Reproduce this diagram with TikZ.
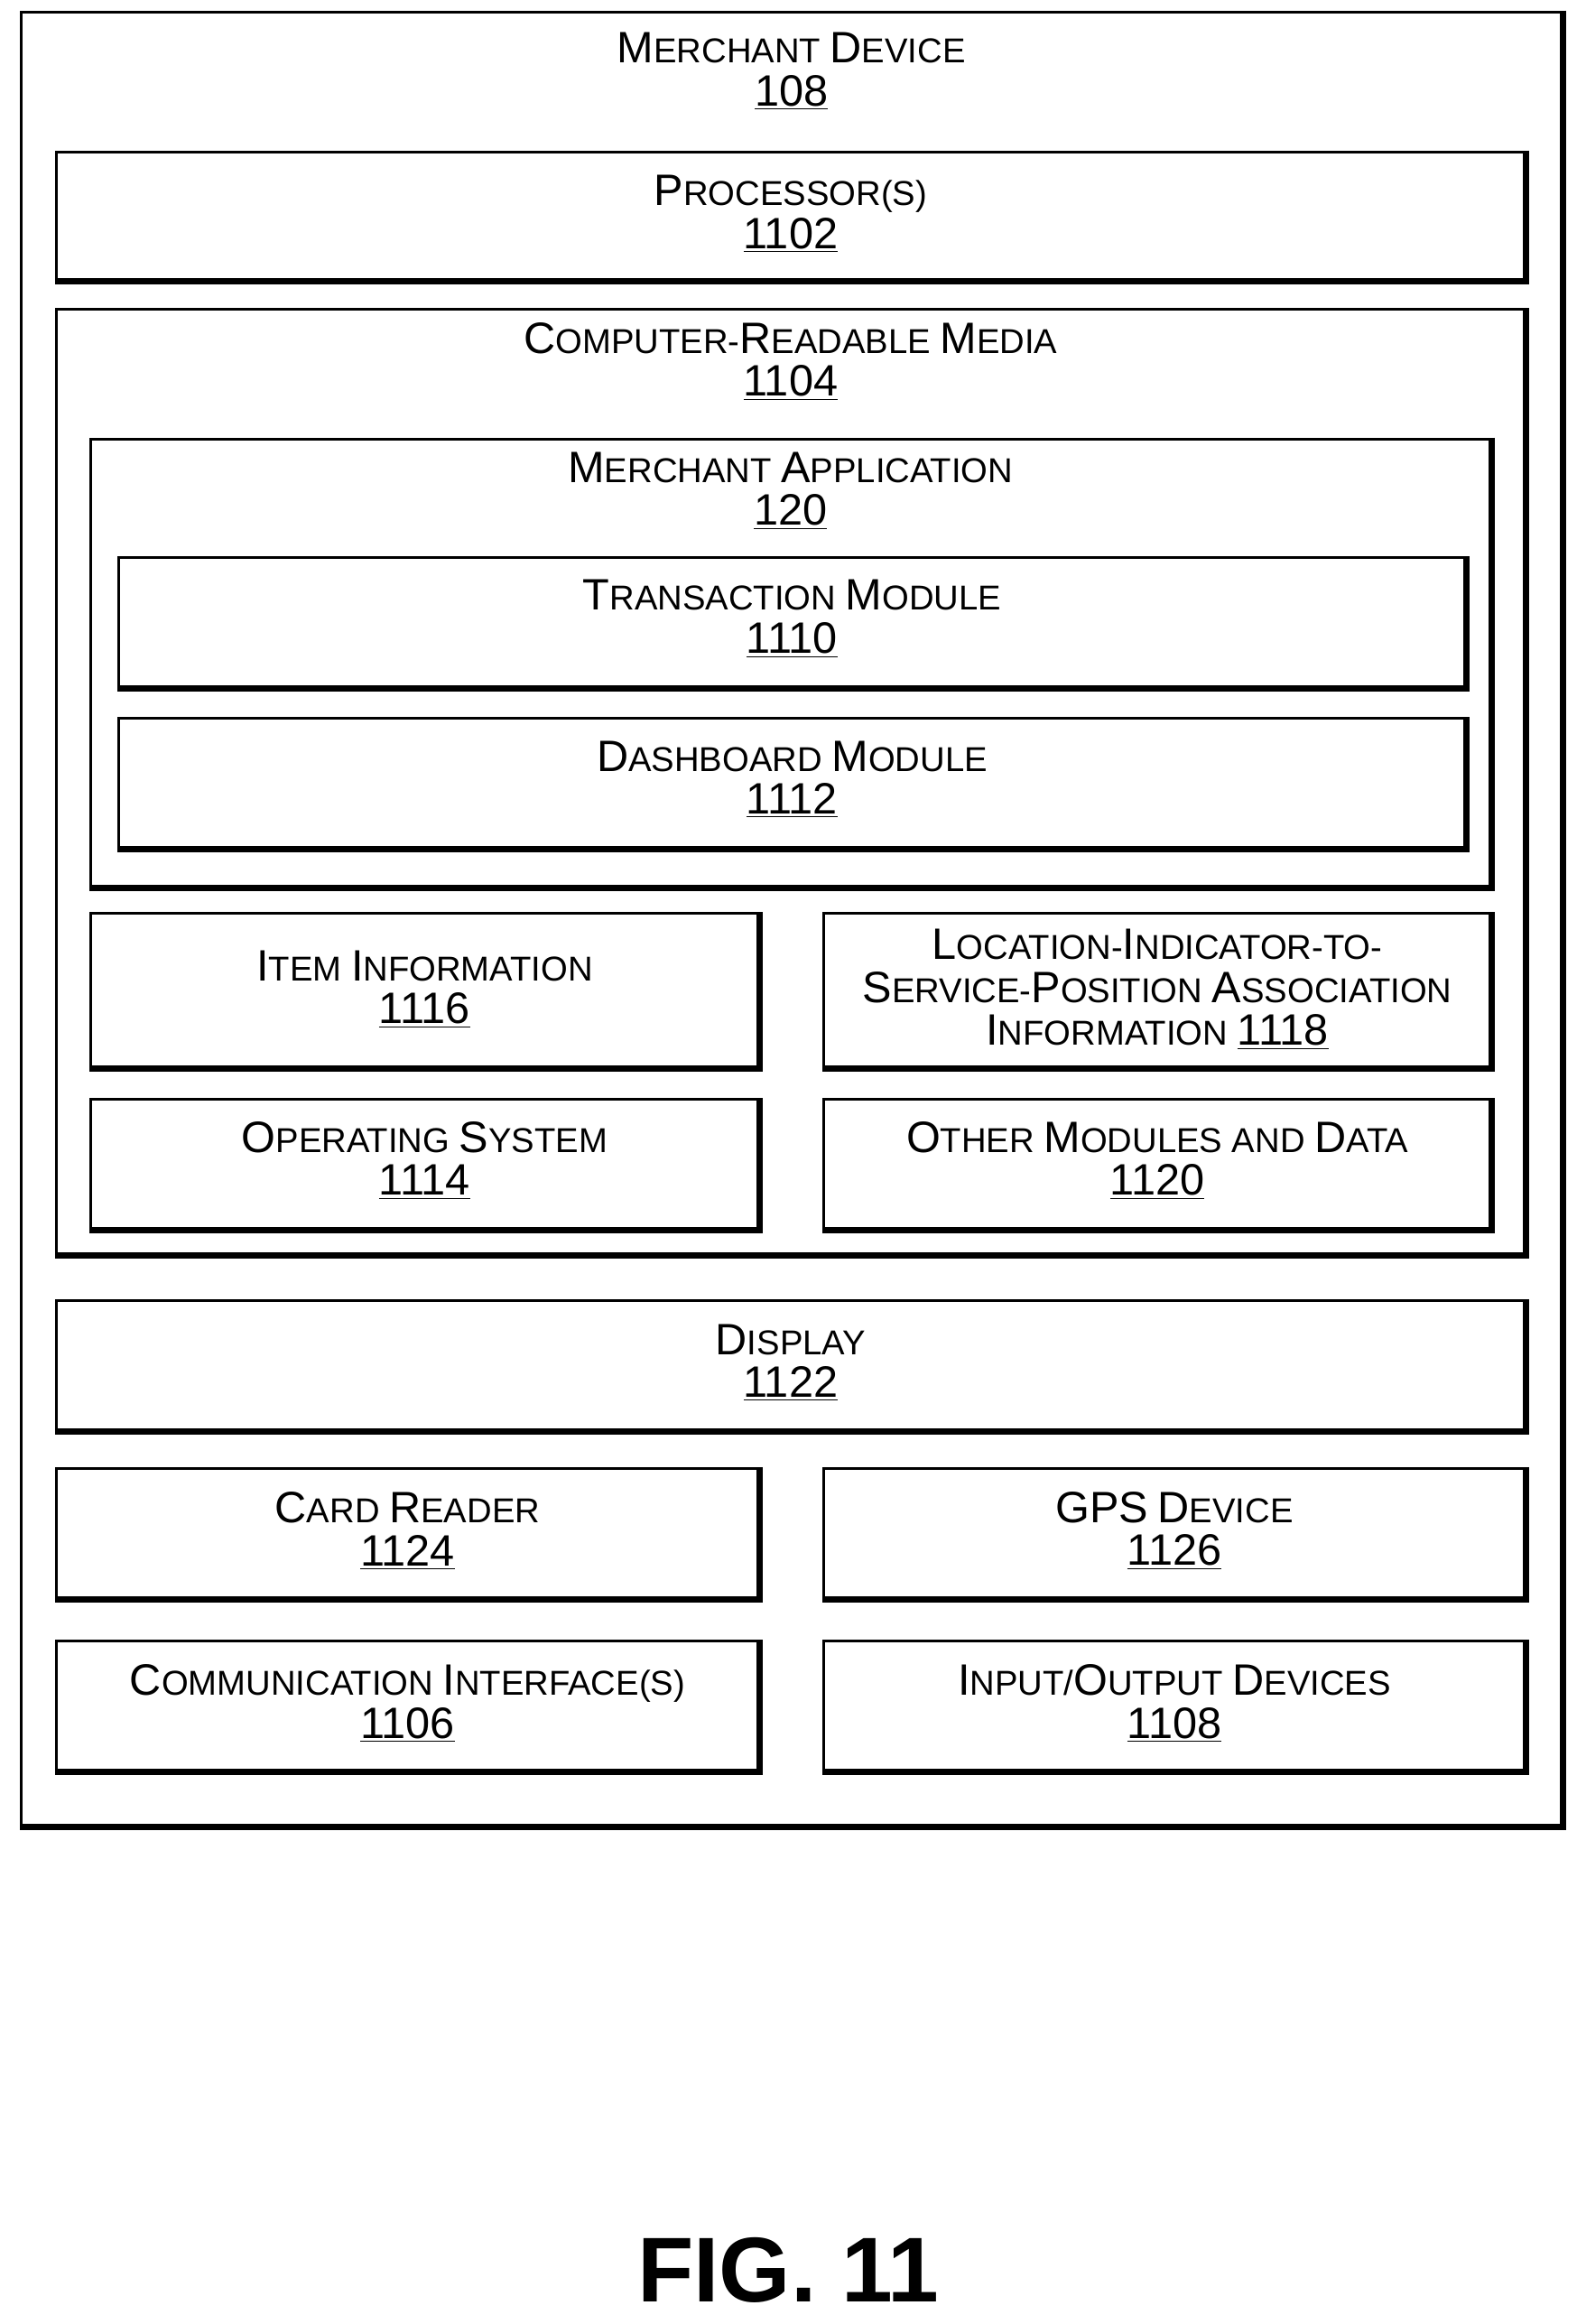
\documentclass[tikz,border=0pt]{standalone}
\usepackage{fontspec}
\setmainfont{Liberation Sans}
\begin{document}
\newcommand\K[1]{{\fontsize{21}{24}\selectfont #1}}
\newcommand\N[1]{{\fontsize{21}{24}\selectfont\underline{#1}}}
\newcommand\bx[7]{%
 \pgfmathsetmacro\cx{(#2+#4)/2}\pgfmathsetmacro\cy{(#3+#5)/2}%
 \pgfmathsetmacro\w{(#4-#2)*0.025}\pgfmathsetmacro\h{(#5-#3)*0.025}%
 \node[box,minimum width=\w cm,minimum height=\h cm] (#1) at (\cx,\cy) {};
 \draw[shadow] (#1.north east) -- (#1.south east) -- (#1.south west);
 \node[lbl] (#1t) at (\cx,#7) {#6};}
\begin{tikzpicture}[x=0.025cm,y=-0.025cm,
 box/.style={draw,line width=1.3pt,inner sep=0pt},
 shadow/.style={line width=3pt},
 lbl/.style={align=center,font=\fontsize{16.5}{20.5}\selectfont,inner sep=0pt}]
\useasboundingbox (0,0) rectangle (1060,1562);
\bx{dev}{14}{8}{1050}{1227}{\K{M}ERCHANT \K{D}EVICE\\\N{108}}{48}
\bx{proc}{38}{102}{1025}{188}{\K{P}ROCESSOR(S)\\\N{1102}}{144}
\bx{crm}{38}{208}{1025}{843}{\K{C}OMPUTER-\K{R}EADABLE \K{M}EDIA\\\N{1104}}{243}
\bx{app}{61}{295}{1002}{596}{\K{M}ERCHANT \K{A}PPLICATION\\\N{120}}{330}
\bx{tm}{80}{375}{985}{462}{\K{T}RANSACTION \K{M}ODULE\\\N{1110}}{416}
\bx{dm}{80}{483}{985}{570}{\K{D}ASHBOARD \K{M}ODULE\\\N{1112}}{524}
\bx{item}{61}{614}{510}{717}{\K{I}TEM \K{I}NFORMATION\\\N{1116}}{665}
\bx{loc}{554}{614}{1002}{717}{\K{L}OCATION-\K{I}NDICATOR-TO-\\\K{S}ERVICE-\K{P}OSITION \K{A}SSOCIATION\\\K{I}NFORMATION \N{1118}}{665}
\bx{os}{61}{739}{510}{826}{\K{O}PERATING \K{S}YSTEM\\\N{1114}}{780}
\bx{oth}{554}{739}{1002}{826}{\K{O}THER \K{M}ODULES AND \K{D}ATA\\\N{1120}}{780}
\bx{disp}{38}{874}{1025}{961}{\K{D}ISPLAY\\\N{1122}}{916}
\bx{card}{38}{987}{510}{1074}{\K{C}ARD \K{R}EADER\\\N{1124}}{1029}
\bx{gps}{554}{987}{1025}{1074}{\K{GPS} \K{D}EVICE\\\N{1126}}{1029}
\bx{comm}{38}{1103}{510}{1190}{\K{C}OMMUNICATION \K{I}NTERFACE(S)\\\N{1106}}{1145}
\bx{io}{554}{1103}{1025}{1190}{\K{I}NPUT/\K{O}UTPUT \K{D}EVICES\\\N{1108}}{1145}
\node[font=\bfseries\fontsize{44}{48}\selectfont] (fig) at (530,1526) {FIG. 11};
\end{tikzpicture}
\end{document}
